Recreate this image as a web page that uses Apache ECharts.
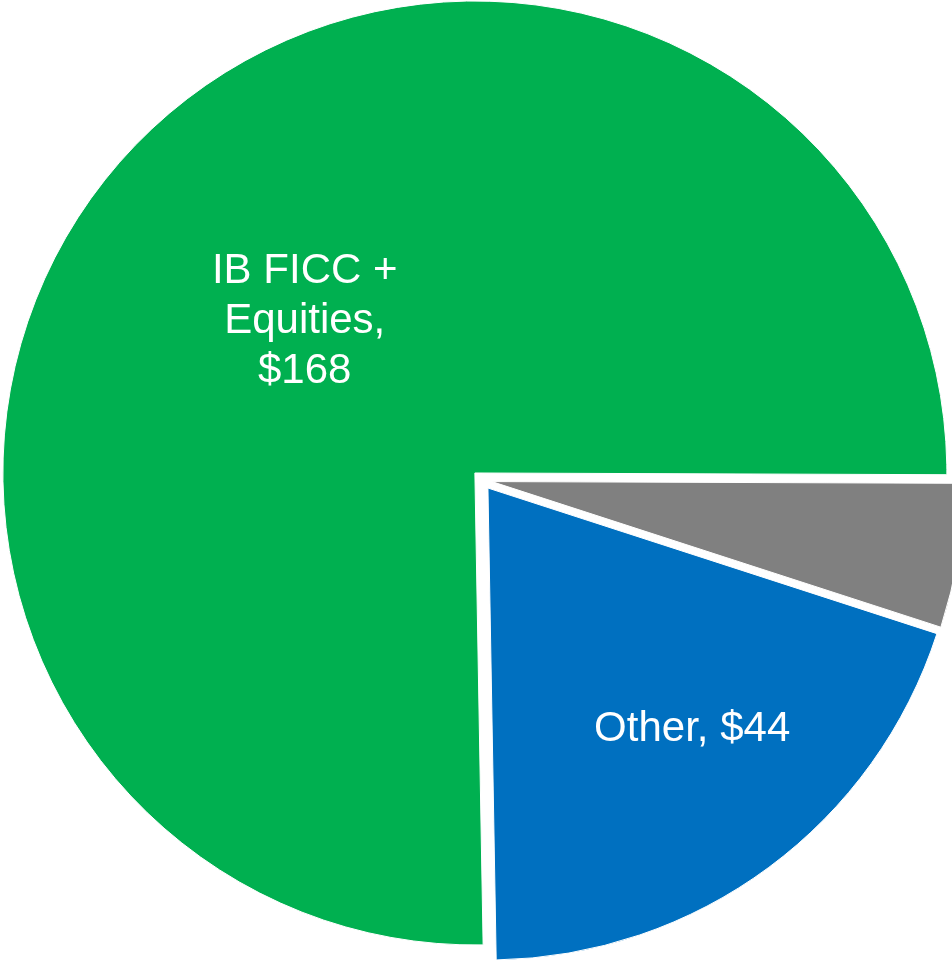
<!DOCTYPE html>
<html>
<head>
<meta charset="utf-8">
<title>Revenue split</title>
<script src="https://cdn.jsdelivr.net/npm/echarts@6/dist/echarts.min.js"></script>
<style>
  html, body { margin: 0; padding: 0; background: #ffffff; }
  #chart { width: 952px; height: 960px; }
</style>
</head>
<body>
<div id="chart"></div>
<script>
// Slice names, values and colours, in clockwise drawing order
const categories = ['IB FICC +\nEquities', 'Other IB', 'Other'];
const values = [168, 11, 44];
const colors = ['#00B050', '#808080', '#0070C0'];
const showLabel = [true, false, true];
const labelJoin = ['\n', '', ' '];

// Nudges that move each inside label to its spot within the slice
const labelShift = [
  { dx: 0, dy: 16 },
  { dx: 0, dy: 0 },
  { dx: 62, dy: 49 }
];

const chart = echarts.init(document.getElementById('chart'), null, { renderer: 'canvas' });

const data = categories.map((name, i) => ({
  name: name,
  value: values[i],
  selected: true,
  itemStyle: { color: colors[i] },
  select: { itemStyle: { color: colors[i] } },
  label: { show: showLabel[i] }
}));

chart.setOption({
  animation: false,
  series: [{
    type: 'pie',
    center: [482, 480],
    radius: 472,
    startAngle: 271,
    clockwise: true,
    selectedMode: 'multiple',
    selectedOffset: 10,
    avoidLabelOverlap: false,
    itemStyle: { borderColor: '#ffffff', borderWidth: 1 },
    emphasis: { disabled: true },
    label: {
      position: 'inside',
      color: '#ffffff',
      fontFamily: 'Liberation Sans, Arial, sans-serif',
      fontSize: 42,
      lineHeight: 50,
      align: 'center',
      formatter: p => p.name + ',' + labelJoin[p.dataIndex] + '$' + p.value
    },
    labelLine: { show: false },
    labelLayout: p => labelShift[p.dataIndex],
    data: data
  }]
});
</script>
</body>
</html>
